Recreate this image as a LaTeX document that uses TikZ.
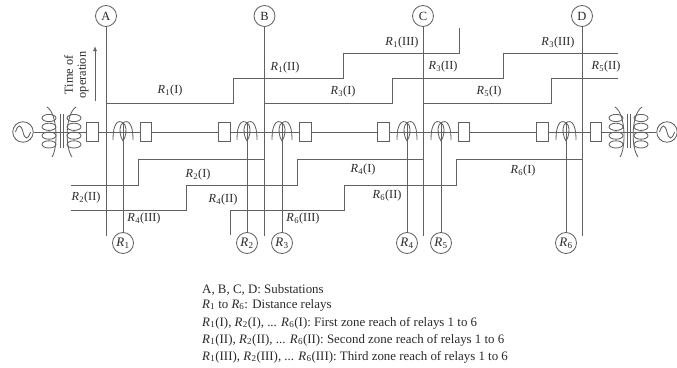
\documentclass[tikz,border=0pt]{standalone}
\usepackage{fontspec}
\setmainfont{Liberation Serif}
\usetikzlibrary{arrows.meta}
\definecolor{ln}{gray}{0.38}
\definecolor{tx}{gray}{0.16}
\newcommand{\Rr}[2]{\textit{R}\kern0.3pt$_{\mathrm{#1}}$(#2)}
\tikzset{
  every picture/.style={x=1pt,y=-1pt},
  wire/.style={draw=ln,line width=0.85pt},
  bus/.style={circle,draw=ln,line width=0.85pt,minimum size=21pt,inner sep=0pt,font=\fontsize{12.5}{13}\selectfont,text=tx,fill=white},
  relay/.style={bus},
  breaker/.style={rectangle,draw=ln,line width=0.85pt,minimum width=11.5pt,minimum height=19.5pt,inner sep=0pt,fill=white},
  src/.style={circle,draw=ln,line width=0.85pt,minimum size=20.5pt,inner sep=0pt,fill=white},
  lab/.style={inner sep=0pt,font=\fontsize{12.3}{13}\selectfont,text=tx},
  leg/.style={inner sep=0pt,anchor=base west,font=\fontsize{12.9}{14}\selectfont,text=tx},
}
\newcommand{\coil}[1]{%
  \foreach \yy in {118,126.8,135.6,144.4}{\draw[wire] (#1,\yy) ellipse [x radius=7,y radius=3.6];}}
\newcommand{\ctr}[1]{%
  \draw[wire] ({#1-10},140) .. controls ({#1-10},120) and ({#1-3},118.5) .. ({#1+2},125) .. controls ({#1+4},130) and ({#1+3},136) .. ({#1},141);
  \draw[wire] ({#1+10},140) .. controls ({#1+10},120) and ({#1+3},118.5) .. ({#1-2},125) .. controls ({#1-4},130) and ({#1-3},136) .. ({#1},141);}
\begin{document}
\begin{tikzpicture}
\useasboundingbox (0,0) rectangle (677,367);
% nodes
\node[bus] (A) at (106,16) {A};
\node[bus] (B) at (264.5,16) {B};
\node[bus] (C) at (423,16) {C};
\node[bus] (D) at (582,16) {D};
\node[src] (SL) at (23,132) {};
\node[src] (SR) at (667,132) {};
\foreach \n/\x in {1/123,2/247,3/282,4/407,5/441,6/566}{
  \node[relay] (R\n) at (\x,243) {\fontsize{13}{13}\selectfont\textit{R}\kern0.2pt$_{\mathrm{\n}}$};
}
% main line
\draw[wire] (SL) -- (SR);
% buses
\foreach \n in {A,B,C,D}{
  \coordinate (\n e) at (\n |- 0,236);
  \draw[wire] (\n) -- (\n e);
}
% breakers
\foreach \n/\x in {1/92.3,2/146,3/224.5,4/305.5,5/383.5,6/464,7/542.5,8/596}{
  \node[breaker] (K\n) at (\x,132) {};
}
% source symbols
\draw[wire] (15.5,132) .. controls (18,124) and (21,124) .. (23,132) .. controls (25,140) and (28,140) .. (30.5,132);
\draw[wire] (659.5,132) .. controls (662,124) and (665,124) .. (667,132) .. controls (669,140) and (672,140) .. (674.5,132);
% transformers
\coil{49}\coil{74}\coil{616}\coil{641}
\foreach \x in {60,63,627,630}{\draw[wire] (\x,114) -- (\x,148);}
\draw[wire] (47,107) .. controls (58,114) and (58,148) .. (52,157);
\draw[wire] (76,107) .. controls (65,114) and (65,148) .. (72,157);
\draw[wire] (615,107) .. controls (626,114) and (626,148) .. (620,157);
\draw[wire] (642,107) .. controls (631,114) and (631,148) .. (638,157);
% current transformers and relay leads
\foreach \n/\x in {1/123,2/247,3/282,4/407,5/441,6/566}{
  \ctr{\x}
  \coordinate (T\n) at (\x,122);
  \draw[wire] (T\n) -- (R\n);
}
% zone steps
\coordinate (a1) at (A |- 0,103);
\coordinate (b1) at (B |- 0,103);
\coordinate (c1) at (C |- 0,103);
\coordinate (b2) at (B |- 0,159);
\coordinate (c2) at (C |- 0,159);
\coordinate (d2) at (D |- 0,159);
\draw[wire] (a1) -- (233,103) -- (233,78.5) -- (343,78.5) -- (343,53) -- (459,53) -- (459,28);
\draw[wire] (b1) -- (392,103) -- (392,78.5) -- (503,78.5) -- (503,53) -- (618,53);
\draw[wire] (c1) -- (551,103) -- (551,78.5) -- (618,78.5);
\draw[wire] (b2) -- (138,159) -- (138,185) -- (71,185);
\draw[wire] (c2) -- (297,159) -- (297,185) -- (186,185) -- (186,210) -- (71,210);
\draw[wire] (d2) -- (456,159) -- (456,185) -- (344,185) -- (344,210) -- (230,210) -- (230,235);
% time axis
\coordinate (t0) at (95,101);
\coordinate (t1) at (95,46);
\draw[wire,-{Latex[length=5pt,width=4pt]}] (t0) -- (t1);
\node[lab,rotate=90] (tm1) at (68.5,75) {Time of};
\node[lab,rotate=90] (tm2) at (83,75) {operation};
% labels
\node[lab] (l1) at (170,91) {\Rr{1}{I}};
\node[lab] (l2) at (285,68) {\Rr{1}{II}};
\node[lab] (l3) at (343,92) {\Rr{3}{I}};
\node[lab] (l4) at (402,43) {\Rr{1}{III}};
\node[lab] (l5) at (443,67) {\Rr{3}{II}};
\node[lab] (l6) at (489,92) {\Rr{5}{I}};
\node[lab] (l7) at (558,43) {\Rr{3}{III}};
\node[lab] (l8) at (606,67) {\Rr{5}{II}};
\node[lab] (l9) at (86,198) {\Rr{2}{II}};
\node[lab] (l10) at (198,175) {\Rr{2}{I}};
\node[lab] (l11) at (223,200) {\Rr{4}{II}};
\node[lab] (l12) at (144,219) {\Rr{4}{III}};
\node[lab] (l13) at (303,219) {\Rr{6}{III}};
\node[lab] (l14) at (363,170) {\Rr{4}{I}};
\node[lab] (l15) at (387,196) {\Rr{6}{II}};
\node[lab] (l16) at (523,171) {\Rr{6}{I}};
% legend
\node[leg] (g1) at (202,293) {A, B, C, D: Substations};
\node[leg] (g2) at (202,308) {\textit{R}$_{\mathrm{1}}$ to \textit{R}$_{\mathrm{6}}$: Distance relays};
\node[leg] (g3) at (202,326) {\Rr{1}{I}, \Rr{2}{I}, ... \Rr{6}{I}: First zone reach of relays 1 to 6};
\node[leg] (g4) at (202,343) {\Rr{1}{II}, \Rr{2}{II}, ... \Rr{6}{II}: Second zone reach of relays 1 to 6};
\node[leg] (g5) at (202,360) {\Rr{1}{III}, \Rr{2}{III}, ... \Rr{6}{III}: Third zone reach of relays 1 to 6};
\end{tikzpicture}
\end{document}
